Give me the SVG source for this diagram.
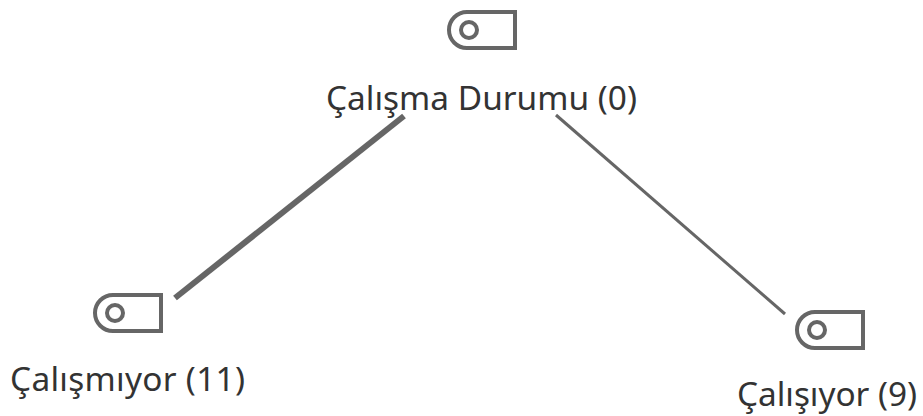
<svg xmlns="http://www.w3.org/2000/svg" width="923" height="416" viewBox="0 0 923 416">
<defs><g id="tag"><path d="M68 2H20A18 18 0 0 0 20 38H68Z" fill="none" stroke="#666" stroke-width="4"/><circle cx="22" cy="20" r="8" fill="none" stroke="#666" stroke-width="4"/></g></defs>
<style>text{font-family:"Noto Sans","Open Sans",sans-serif;font-size:33.4px;fill:#333}</style>
<g id="connectors"><line x1="404" y1="116" x2="175" y2="298" stroke="#666" stroke-width="6"/><line x1="556" y1="115" x2="785" y2="314" stroke="#666" stroke-width="3"/></g>
<g id="node-root"><use href="#tag" x="447" y="10"/><text x="326" y="110" textLength="311">Çalışma Durumu (0)</text></g>
<g id="node-left"><use href="#tag" x="93" y="293"/><text x="10" y="391" textLength="235">Çalışmıyor (11)</text></g>
<g id="node-right"><use href="#tag" x="795" y="310"/><text x="737" y="406" textLength="180">Çalışıyor (9)</text></g>
</svg>
